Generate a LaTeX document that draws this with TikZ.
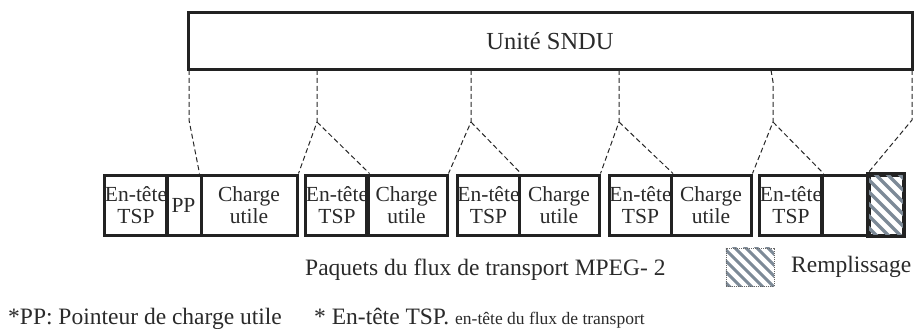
\documentclass[tikz,border=0pt]{standalone}
\usepackage{fontspec}
\setmainfont{Liberation Serif}
\definecolor{ink}{HTML}{2A2A2A}
\definecolor{edge}{HTML}{222222}
\definecolor{stripe}{HTML}{7D8A97}
\begin{document}
\begin{tikzpicture}[x=1pt,y=-1pt,
  cell/.style={draw=edge, line width=3pt, minimum height=60pt, inner sep=0pt,
    align=center, text=ink, font=\fontsize{21.5}{22}\selectfont},
  dl/.style={draw=black!85, line width=1pt, dash pattern=on 5pt off 3pt},
  lbl/.style={text=ink, inner sep=0pt, font=\fontsize{23.5}{25}\selectfont},
  stripeline/.style={draw=stripe, line width=3.2pt}]
\useasboundingbox (0,0) rectangle (914,329);

% SNDU
\node[draw=edge, line width=3pt, minimum width=724pt, minimum height=57pt, inner sep=0pt,
  text=ink, font=\fontsize{24.5}{26}\selectfont] (sndu) at (550,41.5) {Unité SNDU};

% packets
\node[cell, minimum width=60pt] (p1h) at (136,205) {En-tête\\TSP};
\node[cell, minimum width=35pt] (p1pp) at (183.5,205) {PP};
\node[cell, minimum width=96pt] (p1c) at (249,205) {Charge\\utile};
\node[cell, minimum width=58pt] (p2h) at (337,205) {En-tête\\TSP};
\node[cell, minimum width=81pt] (p2c) at (406.5,205) {Charge\\utile};
\node[cell, minimum width=61pt] (p3h) at (488.5,205) {En-tête\\TSP};
\node[cell, minimum width=80pt] (p3c) at (559,205) {Charge\\utile};
\node[cell, minimum width=61pt] (p4h) at (640.5,205) {En-tête\\TSP};
\node[cell, minimum width=80pt] (p4c) at (711,205) {Charge\\utile};
\node[cell, minimum width=60pt] (p5h) at (791,205) {En-tête\\TSP};
\node[cell, minimum width=48pt] (p5e) at (845,205) {};
\node[cell, minimum width=34pt] (p5f) at (886,205) {};
\begin{scope}
  \clip (p5f.south west) rectangle (p5f.north east);
  \foreach \s in {-70,-58,...,40} {
    \draw[stripeline] (869+\s,170) -- (869+\s+70,240);
  }
\end{scope}
\draw[draw=edge, line width=3pt] (p5f.south west) rectangle (p5f.north east);

% connectors
\coordinate (s1) at (189,70);
\coordinate (s2) at (317,70);
\coordinate (s3) at (471,70);
\coordinate (s4) at (619,70);
\coordinate (s5) at (771,70);
\coordinate (s6) at (912,70);
\coordinate (k1) at (189,120);
\coordinate (k2) at (317,122);
\coordinate (k3) at (471,122);
\coordinate (k4) at (619,122);
\coordinate (m5) at (773,82);
\coordinate (k5) at (773,122);
\coordinate (k6) at (912,120);
\draw[dl] (s1) -- (k1) -- (p1c.north west);
\draw[dl] (s2) -- (k2) -- (p1c.north east);
\draw[dl] (k2) -- (p2h.north east);
\draw[dl] (s3) -- (k3) -- (p2c.north east);
\draw[dl] (k3) -- (p3h.north east);
\draw[dl] (s4) -- (k4) -- (p3c.north east);
\draw[dl] (k4) -- (p4h.north east);
\draw[dl] (s5) -- (m5) -- (k5) -- (p4c.north east);
\draw[dl] (k5) -- (p5h.north east);
\draw[dl] (s6) -- (k6) -- (p5f.north west);

% legend
\node[lbl, anchor=base west] (paq) at (305,275) {Paquets du flux de transport MPEG- 2};
\node[minimum width=48pt, minimum height=38pt, inner sep=0pt] (icon) at (750,267) {};
\begin{scope}
  \clip (icon.south west) rectangle (icon.north east);
  \foreach \s in {-60,-49,...,50} {
    \draw[stripeline, line width=3pt] (726+\s,245) -- (726+\s+60,305);
  }
\end{scope}
\draw[draw=black!60, line width=0.6pt, dash pattern=on 1pt off 1pt] (icon.south west) rectangle (icon.north east);
\node[lbl, anchor=base west] (rem) at (791,272) {Remplissage};
\node[lbl, anchor=base west] (n1) at (8,324) {*PP: Pointeur de charge utile};
\node[lbl, anchor=base west] (n2) at (314,324) {* En-tête TSP.\ {\fontsize{17.5}{19}\selectfont en-tête du flux de transport}};
\end{tikzpicture}
\end{document}
